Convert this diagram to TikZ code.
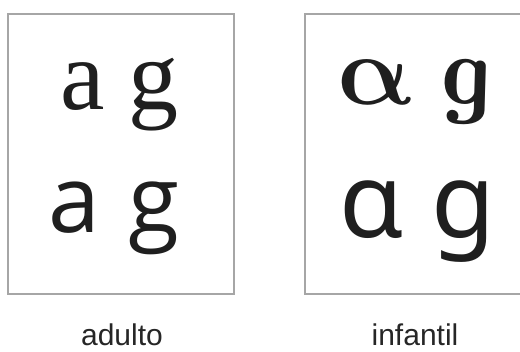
\documentclass[tikz,border=0pt]{standalone}
\usepackage{fontspec}
\newfontfamily\adultserif{Liberation Serif}
\newfontfamily\labelfont{Liberation Sans}
\newfontfamily\adultsans{Open Sans}
\newfontfamily\kidsans{Noto Sans}
\newfontfamily\lmital{Latin Modern Roman}
\newcommand\boldalpha{\mbox{\boldmath$\alpha$}}
\begin{document}
\begin{tikzpicture}[x=1pt,y=-1pt,
  frame/.style={draw=black!35,line width=1.2pt},
  glyph/.style={anchor=base,inner sep=0pt,text=black!88},
  lbl/.style={anchor=base,inner sep=0pt,font=\labelfont\fontsize{30}{34}\selectfont,text=black!85}]
\useasboundingbox (0,0) rectangle (520,352);
% frames
\draw[frame] (8,14) rectangle (234,294);
\draw[frame] (305,14) rectangle (530,294);
% adult letters
\node[glyph,font=\adultserif\fontsize{100}{110}\selectfont] (ta) at (82.5,110) {a};
\node[glyph,font=\adultserif\fontsize{100}{110}\selectfont] (tg) at (153.5,110) {g};
\node[glyph,font=\adultsans\fontsize{93}{100}\selectfont] (ba) at (74,233) {a};
\node[glyph,font=\adultsans\fontsize{93}{100}\selectfont] (bg) at (154,233) {g};
% infant letters
\node[glyph,font=\Huge,scale=4.0,xslant=-0.25,transform shape] (tia) at (380,105) {\boldalpha};
\node[glyph,font=\lmital\bfseries\itshape\fontsize{100}{110}\selectfont,xslant=-0.22,transform shape] (tig) at (465,105) {g};
\node[glyph,font=\kidsans\fontsize{104}{110}\selectfont] (bia) at (371.5,238) {ɑ};
\node[glyph,font=\kidsans\fontsize{104}{110}\selectfont] (big) at (463.5,238) {g};
% labels
\node[lbl] (adulto) at (122,346) {adulto};
\node[lbl] (infantil) at (415,346) {infantil};
\end{tikzpicture}
\end{document}
